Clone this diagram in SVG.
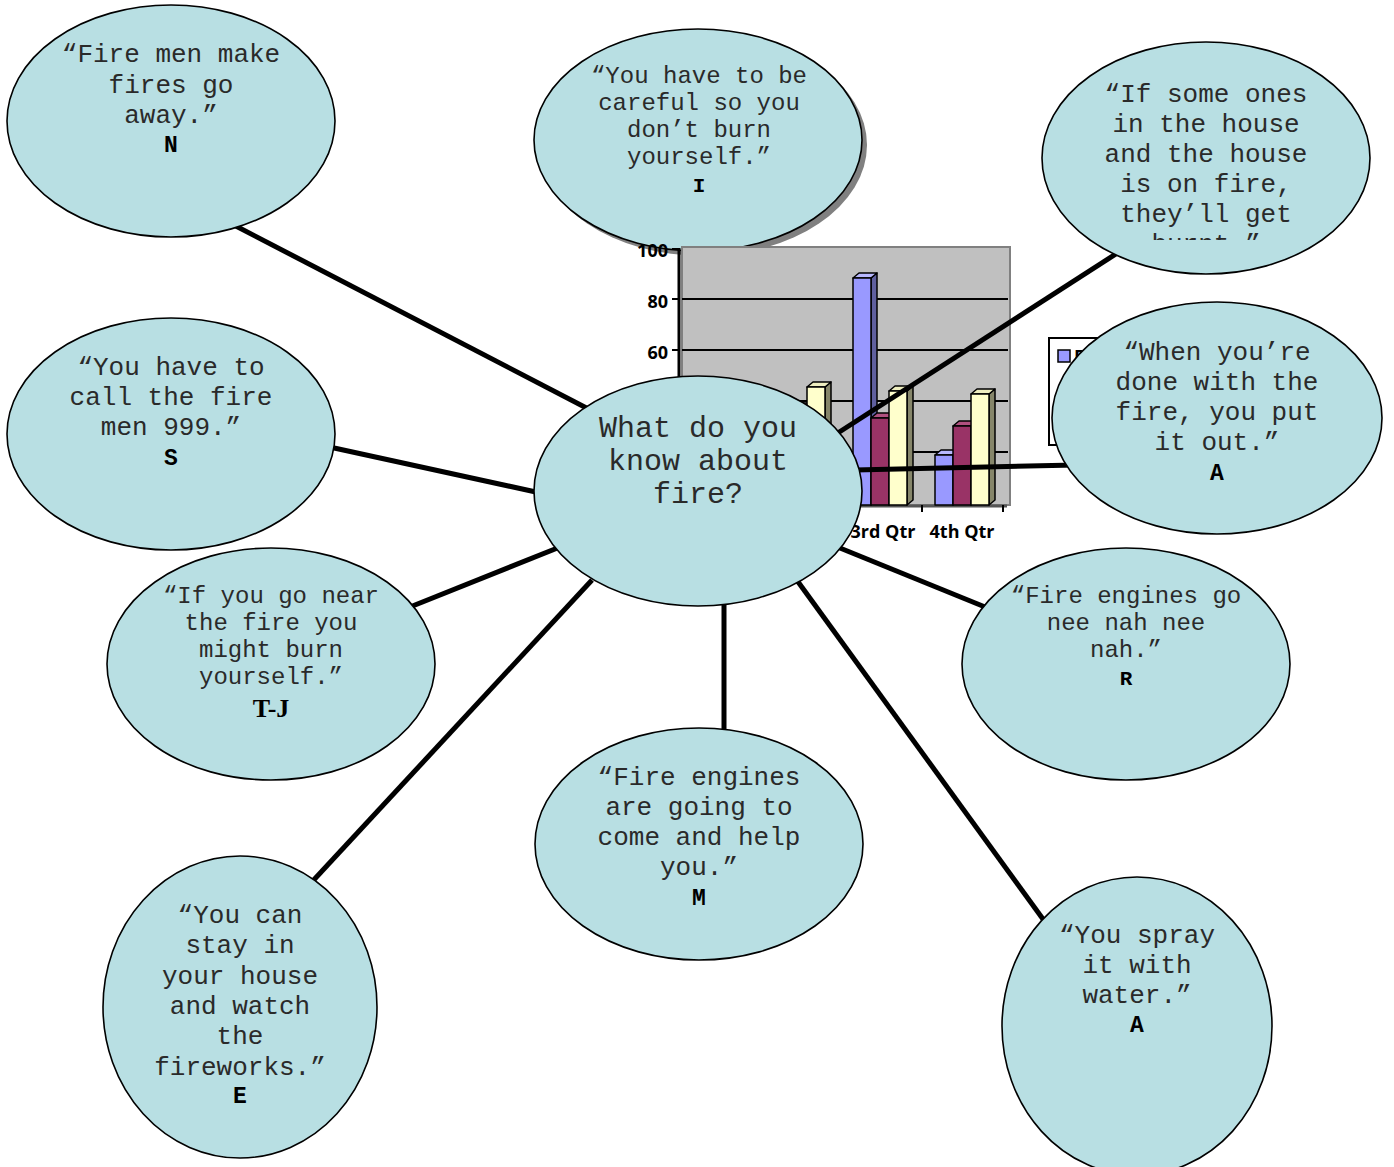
<svg xmlns="http://www.w3.org/2000/svg" width="1394" height="1167" viewBox="0 0 1394 1167">
<defs>
<style>
.bub{fill:#B8DFE3;stroke:#000;stroke-width:1.6}
.t26{font-family:"Liberation Mono","Courier New",monospace;font-size:26px;fill:#2a2a2a;text-anchor:middle}
.t24{font-family:"Liberation Mono","Courier New",monospace;font-size:24px;fill:#2a2a2a;text-anchor:middle}
.t30{font-family:"Liberation Mono","Courier New",monospace;font-size:30px;fill:#2a2a2a;text-anchor:middle}
.lb{font-family:"Liberation Mono","Courier New",monospace;font-weight:bold;font-size:23px;fill:#000;text-anchor:middle}
.lbs{font-family:"Liberation Mono","Courier New",monospace;font-weight:bold;font-size:21px;fill:#000;text-anchor:middle}
.conn line{stroke:#000;stroke-width:5;stroke-linecap:butt}
.ax{font-family:"Open Sans","Liberation Sans",sans-serif;font-weight:bold;font-size:18px;fill:#000}
.grid{stroke:#000;stroke-width:2}
.bar{stroke:#000;stroke-width:1.5;stroke-linejoin:round}
</style>
<clipPath id="clipIf"><rect x="1040" y="40" width="340" height="200"/></clipPath>
</defs>
<rect width="1394" height="1167" fill="#fff"/>

<g id="node-I">
<ellipse cx="703" cy="145" rx="164" ry="111" fill="#808080"/>
<ellipse class="bub" cx="698" cy="140" rx="164" ry="111"/>
<text class="t24" x="699" y="83">“You have to be</text>
<text class="t24" x="699" y="110">careful so you</text>
<text class="t24" x="699" y="137">don’t burn</text>
<text class="t24" x="699" y="164">yourself.”</text>
<text class="lbs" x="699" y="192">I</text>
</g>

<g id="chart">
<rect x="682" y="247" width="328" height="258" fill="#C0C0C0" stroke="#808080" stroke-width="2"/>
<line class="grid" x1="682" y1="299" x2="1008" y2="299"/>
<line class="grid" x1="682" y1="350" x2="1008" y2="350"/>
<line class="grid" x1="682" y1="401" x2="1008" y2="401"/>
<line class="grid" x1="682" y1="452" x2="1008" y2="452"/>
<line x1="679" y1="248" x2="679" y2="507" stroke="#000" stroke-width="3"/>
<g stroke="#000" stroke-width="2">
<line x1="672" y1="249" x2="680" y2="249"/>
<line x1="672" y1="299" x2="680" y2="299"/>
<line x1="672" y1="350" x2="680" y2="350"/>
<line x1="672" y1="401" x2="680" y2="401"/>
<line x1="672" y1="452" x2="680" y2="452"/>
<line x1="680" y1="506" x2="1007" y2="506" stroke="#555" stroke-width="3"/>
<line x1="922" y1="505" x2="922" y2="512"/>
<line x1="1003" y1="505" x2="1003" y2="512"/>
<line x1="841" y1="505" x2="841" y2="512"/>
</g>
<text class="ax" x="668" y="257" text-anchor="end">100</text>
<text class="ax" x="668" y="308" text-anchor="end">80</text>
<text class="ax" x="668" y="359" text-anchor="end">60</text>
<text class="ax" x="883" y="538" text-anchor="middle">3rd Qtr</text>
<text class="ax" x="962" y="538" text-anchor="middle">4th Qtr</text>
<g class="bar">
<polygon points="707,454 713,449 713,500 707,505" fill="#5F5F9F"/><polygon points="689,454 695,449 713,449 707,454" fill="#B8B8FF"/><rect x="689" y="454" width="18" height="51" fill="#9999FF"/>
<polygon points="725,428 731,423 731,500 725,505" fill="#5E1F3E"/><polygon points="707,428 713,423 731,423 725,428" fill="#B0507F"/><rect x="707" y="428" width="18" height="77" fill="#993366"/>
<polygon points="743,389 749,384 749,500 743,505" fill="#86866A"/><polygon points="725,389 731,384 749,384 743,389" fill="#EEEEC0"/><rect x="725" y="389" width="18" height="116" fill="#FFFFCC"/>
</g>
<g class="bar">
<polygon points="789,436 795,431 795,500 789,505" fill="#5F5F9F"/><polygon points="771,436 777,431 795,431 789,436" fill="#B8B8FF"/><rect x="771" y="436" width="18" height="69" fill="#9999FF"/>
<polygon points="807,408 813,403 813,500 807,505" fill="#5E1F3E"/><polygon points="789,408 795,403 813,403 807,408" fill="#B0507F"/><rect x="789" y="408" width="18" height="97" fill="#993366"/>
<polygon points="825,387 831,382 831,500 825,505" fill="#86866A"/><polygon points="807,387 813,382 831,382 825,387" fill="#EEEEC0"/><rect x="807" y="387" width="18" height="118" fill="#FFFFCC"/>
</g>
<g class="bar">
<polygon points="871,278 877,273 877,500 871,505" fill="#5F5F9F"/><polygon points="853,278 859,273 877,273 871,278" fill="#B8B8FF"/><rect x="853" y="278" width="18" height="227" fill="#9999FF"/>
<polygon points="889,418 895,413 895,500 889,505" fill="#5E1F3E"/><polygon points="871,418 877,413 895,413 889,418" fill="#B0507F"/><rect x="871" y="418" width="18" height="87" fill="#993366"/>
<polygon points="907,391 913,386 913,500 907,505" fill="#86866A"/><polygon points="889,391 895,386 913,386 907,391" fill="#EEEEC0"/><rect x="889" y="391" width="18" height="114" fill="#FFFFCC"/>
</g>
<g class="bar">
<polygon points="953,455 959,450 959,500 953,505" fill="#5F5F9F"/><polygon points="935,455 941,450 959,450 953,455" fill="#B8B8FF"/><rect x="935" y="455" width="18" height="50" fill="#9999FF"/>
<polygon points="971,426 977,421 977,500 971,505" fill="#5E1F3E"/><polygon points="953,426 959,421 977,421 971,426" fill="#B0507F"/><rect x="953" y="426" width="18" height="79" fill="#993366"/>
<polygon points="989,394 995,389 995,500 989,505" fill="#86866A"/><polygon points="971,394 977,389 995,389 989,394" fill="#EEEEC0"/><rect x="971" y="394" width="18" height="111" fill="#FFFFCC"/>
</g>
</g>

<g id="legend">
<rect x="1049" y="338" width="120" height="107" fill="#fff" stroke="#000" stroke-width="2"/>
<rect x="1058" y="350" width="12" height="12" fill="#9999FF" stroke="#000" stroke-width="1.5"/>
<rect x="1058" y="390" width="12" height="12" fill="#993366" stroke="#000" stroke-width="1.5"/>
<text class="ax" x="1074" y="363" font-size="16">East</text>
</g>

<g id="connectors" class="conn">
<line x1="230" y1="223" x2="600" y2="415"/>
<line x1="325" y1="446" x2="545" y2="494"/>
<line x1="405" y1="609" x2="565" y2="545"/>
<line x1="310" y1="884" x2="592" y2="580"/>
<line x1="724" y1="600" x2="724" y2="735"/>
<line x1="796" y1="579" x2="1048" y2="926"/>
<line x1="835" y1="546" x2="990" y2="609"/>
<line x1="855" y1="470" x2="1076" y2="465"/>
<line x1="830" y1="438" x2="1122" y2="250"/>
</g>

<g id="node-N">
<ellipse class="bub" cx="171" cy="121" rx="164" ry="116"/>
<text class="t26" x="171" y="62">“Fire men make</text>
<text class="t26" x="171" y="93">fires go</text>
<text class="t26" x="171" y="123">away.”</text>
<text class="lb" x="171" y="152">N</text>
</g>

<g id="node-If">
<ellipse class="bub" cx="1206" cy="158" rx="164" ry="116"/>
<g clip-path="url(#clipIf)">
<text class="t26" x="1206" y="102">“If some ones</text>
<text class="t26" x="1206" y="132">in the house</text>
<text class="t26" x="1206" y="162">and the house</text>
<text class="t26" x="1206" y="192">is on fire,</text>
<text class="t26" x="1206" y="222">they’ll get</text>
<text class="t26" x="1206" y="252">burnt.”</text>
</g>
</g>

<g id="node-S">
<ellipse class="bub" cx="171" cy="434" rx="164" ry="116"/>
<text class="t26" x="171" y="375">“You have to</text>
<text class="t26" x="171" y="405">call the fire</text>
<text class="t26" x="171" y="435">men 999.”</text>
<text class="lb" x="171" y="465">S</text>
</g>

<g id="node-When">
<ellipse class="bub" cx="1217" cy="418" rx="165" ry="116"/>
<text class="t26" x="1217" y="360">“When you’re</text>
<text class="t26" x="1217" y="390">done with the</text>
<text class="t26" x="1217" y="420">fire, you put</text>
<text class="t26" x="1217" y="450">it out.”</text>
<text class="lb" x="1217" y="480">A</text>
</g>

<g id="node-center">
<ellipse class="bub" cx="698" cy="491" rx="164" ry="115"/>
<text class="t30" x="698" y="437">What do you</text>
<text class="t30" x="698" y="470">know about</text>
<text class="t30" x="698" y="503">fire?</text>
</g>

<g id="node-TJ">
<ellipse class="bub" cx="271" cy="664" rx="164" ry="116"/>
<text class="t24" x="271" y="603">“If you go near</text>
<text class="t24" x="271" y="630">the fire you</text>
<text class="t24" x="271" y="657">might burn</text>
<text class="t24" x="271" y="684">yourself.”</text>
<text x="271" y="717" font-family="'Liberation Serif','Times New Roman',serif" font-weight="bold" font-size="26" text-anchor="middle" fill="#000">T-J</text>
</g>

<g id="node-R">
<ellipse class="bub" cx="1126" cy="664" rx="164" ry="116"/>
<text class="t24" x="1126" y="603">“Fire engines go</text>
<text class="t24" x="1126" y="630">nee nah nee</text>
<text class="t24" x="1126" y="657">nah.”</text>
<text class="lbs" x="1126" y="685">R</text>
</g>

<g id="node-M">
<ellipse class="bub" cx="699" cy="844" rx="164" ry="116"/>
<text class="t26" x="699" y="785">“Fire engines</text>
<text class="t26" x="699" y="815">are going to</text>
<text class="t26" x="699" y="845">come and help</text>
<text class="t26" x="699" y="875">you.”</text>
<text class="lb" x="699" y="905">M</text>
</g>

<g id="node-E">
<ellipse class="bub" cx="240" cy="1007" rx="137" ry="151"/>
<text class="t26" x="240" y="923">“You can</text>
<text class="t26" x="240" y="953">stay in</text>
<text class="t26" x="240" y="984">your house</text>
<text class="t26" x="240" y="1014">and watch</text>
<text class="t26" x="240" y="1044">the</text>
<text class="t26" x="240" y="1075">fireworks.”</text>
<text class="lb" x="240" y="1103">E</text>
</g>

<g id="node-A2">
<ellipse class="bub" cx="1137" cy="1026" rx="135" ry="149"/>
<text class="t26" x="1137" y="943">“You spray</text>
<text class="t26" x="1137" y="973">it with</text>
<text class="t26" x="1137" y="1003">water.”</text>
<text class="lb" x="1137" y="1032">A</text>
</g>
</svg>
